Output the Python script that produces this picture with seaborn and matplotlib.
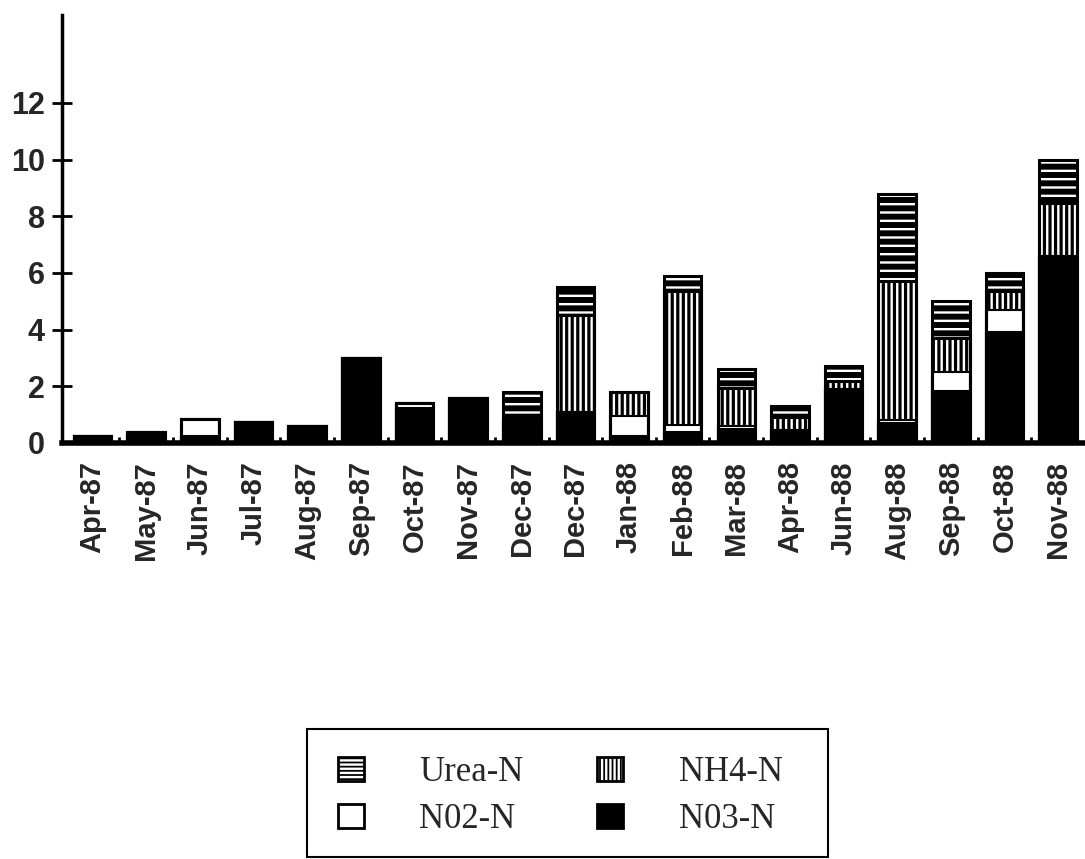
import numpy as np
import matplotlib
matplotlib.use('Agg')
import matplotlib.pyplot as plt
import seaborn as sns
from matplotlib.patches import Patch, Rectangle

months = ['Apr-87', 'May-87', 'Jun-87', 'Jul-87', 'Aug-87', 'Sep-87', 'Oct-87',
          'Nov-87', 'Dec-87', 'Dec-87', 'Jan-88', 'Feb-88', 'Mar-88', 'Apr-88',
          'Jun-88', 'Aug-88', 'Sep-88', 'Oct-88', 'Nov-88']
no3 = [0.25, 0.3, 0.25, 0.75, 0.6, 3.0, 1.25, 1.48, 0.8, 1.1, 0.25, 0.4,
       0.5, 0.45, 1.9, 0.7, 1.85, 3.9, 6.6]
no2 = [0, 0.1, 0.6, 0, 0, 0, 0.15, 0.12, 0, 0, 0.7, 0.25,
       0.1, 0, 0, 0.1, 0.65, 0.8, 0]
nh4 = [0, 0, 0, 0, 0, 0, 0, 0, 0, 3.4, 0.85, 4.7,
       1.35, 0.45, 0.3, 4.9, 1.2, 0.65, 1.85]
urea = [0, 0, 0, 0, 0, 0, 0, 0, 1.0, 1.0, 0, 0.55,
        0.65, 0.4, 0.5, 3.1, 1.3, 0.65, 1.55]
yticks = [0, 2, 4, 6, 8, 10, 12]

sns.set_style('ticks')
plt.rcParams['font.family'] = ['Liberation Sans', 'DejaVu Sans']
plt.rcParams['hatch.linewidth'] = 1.7

W, H = 1085, 859
fig = plt.figure(figsize=(W / 100, H / 100), dpi=100)
ax = fig.add_axes([62 / W, (H - 443) / H, (W - 62) / W, (443 - 15) / H])

pos = np.arange(len(months))
lvl1 = np.array(no3)
lvl2 = lvl1 + np.array(no2)
lvl3 = lvl2 + np.array(nh4)
lvl4 = lvl3 + np.array(urea)


def layer(heights, face, **kw):
    sns.barplot(x=pos, y=heights, color=face, saturation=1, width=0.7,
                errorbar=None, ax=ax, **kw)
    return ax.containers[-1]


# stacked by drawing the cumulative totals from the top down
layer(lvl4, 'black', hatch='--', edgecolor='white', linewidth=0)
layer(lvl3, 'black', hatch='|||', edgecolor='white', linewidth=0)
layer(lvl2, 'white', edgecolor='black', linewidth=1.5)
layer(lvl1, 'black', edgecolor='black', linewidth=1.5)
for h in (lvl3, lvl4):
    bars = layer(h, 'black', linewidth=2.2)
    for p in bars:
        p.set_facecolor('none')
        p.set_edgecolor('black')

ax.set_xlim(-0.57, 18.5)
ax.set_ylim(0, 15.1)
ax.set_xticks(pos)
ax.set_xticklabels(months, rotation=90, fontsize=21, fontweight='bold')
ax.set_xticks(pos[:-1] + 0.5, minor=True)
ax.tick_params(axis='x', which='major', length=0, pad=13)
ax.tick_params(axis='x', which='minor', direction='in', length=4, width=2,
               color='black')
ax.set_yticks(yticks)
ax.set_yticklabels([str(t) for t in yticks], fontsize=22, fontweight='bold')
ax.tick_params(axis='y', direction='inout', length=15, width=2,
               color='black', pad=5)
ax.yaxis.get_major_ticks()[0].tick1line.set_visible(False)
ax.set_xlabel('')
ax.set_ylabel('')

sns.despine(ax=ax)
ax.spines['left'].set_linewidth(2.5)
ax.spines['bottom'].set_linewidth(4)
ax.spines['left'].set_color('black')
ax.spines['bottom'].set_color('black')

# legend
urea_h = (Patch(facecolor='black', edgecolor='white', hatch='----', linewidth=0),
          Patch(facecolor='none', edgecolor='black', linewidth=2))
nh4_h = (Patch(facecolor='black', edgecolor='white', hatch='||||', linewidth=0),
         Patch(facecolor='none', edgecolor='black', linewidth=2))
no2_h = Patch(facecolor='white', edgecolor='black', linewidth=2)
no3_h = Patch(facecolor='black', edgecolor='black', linewidth=2)

fig.legend(handles=[urea_h, no2_h, nh4_h, no3_h],
           labels=['Urea-N', 'N02-N', 'NH4-N', 'N03-N'],
           ncol=2, loc='center', bbox_to_anchor=(560 / W, (H - 796) / H),
           frameon=False, prop={'family': 'Liberation Serif', 'size': 25},
           handlelength=0.76, handleheight=0.7, handletextpad=1.6,
           columnspacing=2.1, labelspacing=0.4)
fig.patches.append(Rectangle((307 / W, 2 / H), 521 / W, 128 / H,
                             transform=fig.transFigure, fill=False,
                             edgecolor='black', linewidth=1.5))

fig.savefig('out.png', dpi=100, facecolor='white')
